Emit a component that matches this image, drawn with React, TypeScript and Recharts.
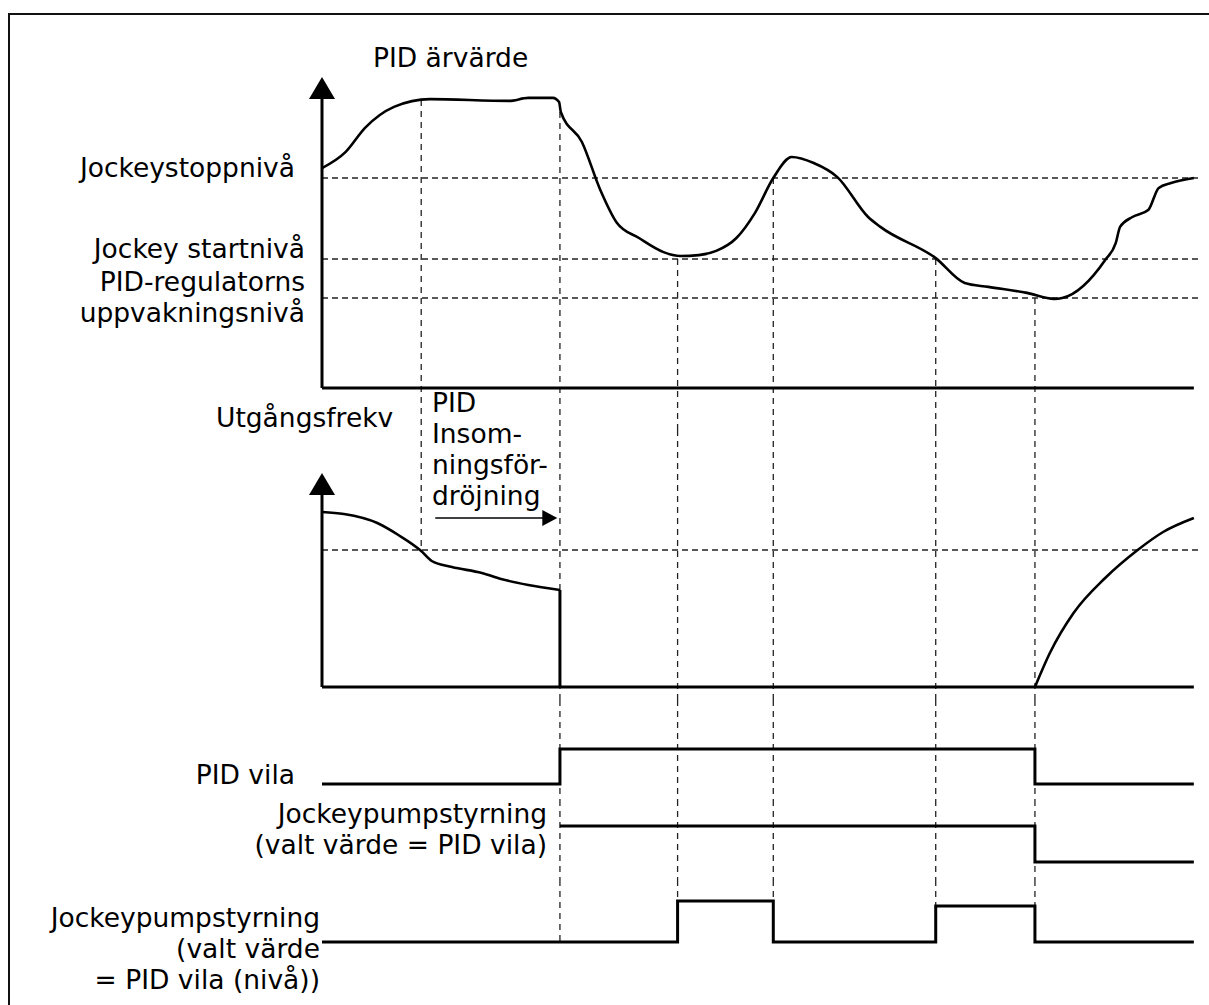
import React from 'react'
import { ComposedChart, Line, XAxis, YAxis, ReferenceLine, ReferenceDot } from 'recharts'

const W = 1209
const H = 1005
const PLOT_LEFT = 322
const PLOT_RIGHT = 1200
const FONT = '"DejaVu Sans", Verdana, sans-serif'
const FONT_SIZE = 26.5
const LINE_H = 31
const T_END = 99.3

// PID actual value (top panel)
const pvTime = [0, 2.7, 4.9, 8.2, 12.3, 21.3, 23.5, 26.3, 27.0, 27.2, 29.6, 31.7, 33.6, 36.1, 38.9, 40.8, 42.9, 44.9, 47.2, 49.3, 51.4, 53.5, 56.0, 58.7, 62.2, 63.6, 69.9, 73.2, 75.9, 80.3, 83.4, 84.3, 89.2, 90.4, 90.9, 92.3, 94.1, 95.3, 96.7, 99.3]
const pvValue = [73.3, 78.7, 86.7, 93.7, 96.3, 95.7, 96.7, 96.7, 95.3, 92.0, 82.0, 66.0, 55.0, 50.0, 45.3, 44.0, 44.3, 45.7, 50.0, 58.3, 70.0, 77.0, 75.0, 70.3, 57.0, 53.7, 43.3, 35.0, 33.7, 31.7, 29.7, 30.0, 42.7, 48.3, 53.7, 57.0, 59.3, 66.7, 68.3, 70.0]
const pvLevels = [70, 43, 30]
const pvAxisTop = 103.7

// output frequency (middle panel)
const freqTime = [0, 2.5, 6.3, 8.7, 11.3, 12.5, 14.8, 18.2, 20.4, 23.5, 27.1]
const freqValue = [87.5, 86.5, 82, 76, 68, 63, 60, 57, 54, 51, 48.5]
const freqRiseTime = [81.2, 82.9, 85.6, 89.2, 92.9, 95.8, 99.3]
const freqRiseValue = [0, 17, 37, 54.5, 68.5, 77.5, 84.5]
const freqLevel = 68.5
const freqAxisTop = 107
const delayArrow = { from: 12.9, to: 26.8, level: 84.5 }

// digital signals
const sleepTime = [0, 27.1, 81.2, T_END]
const sleepState = [0, 1, 0, 0]
const jockeyATime = [27.1, 81.2, T_END]
const jockeyAState = [1, 0, 0]
const jockeyBTime = [0, 40.5, 51.4, 69.9, 81.2, T_END]
const jockeyBState = [0, 1, 0, 0.88, 0, 0]

// vertical guides: time, [panel, value] start, [panel, value] end
const guideTime = [11.3, 27.1, 40.5, 51.4, 69.9, 81.2]
const guideFrom = [[0, 96], [0, 92], [0, 43], [0, 70], [0, 43], [0, 30]]
const guideTo = [[1, 68.5], [4, 0], [4, 1], [4, 1], [4, 0.88], [4, 0.88]]

// panel bands on the page: top, bottom, pixel of value 0, pixels per unit
const bands = [
  { top: 40, bottom: 430, zero: 388, k: 3 },
  { top: 430, bottom: 700, zero: 687, k: 2 },
  { top: 700, bottom: 800, zero: 784, k: 35 },
  { top: 800, bottom: 880, zero: 862, k: 36 },
  { top: 880, bottom: 960, zero: 942, k: 41 },
]

const zip = (ts: number[], vs: number[]) => ts.map((t, i) => ({ t, v: vs[i] }))

// y = baseline of the first line
const labels = [
  { lines: ['PID ärvärde'], x: 373, y: 67, anchor: 'start' },
  { lines: ['Jockeystoppnivå'], x: 295, y: 177, anchor: 'end' },
  { lines: ['Jockey startnivå'], x: 305, y: 258, anchor: 'end' },
  { lines: ['PID-regulatorns', 'uppvakningsnivå'], x: 305, y: 291, anchor: 'end' },
  { lines: ['Utgångsfrekv'], x: 216, y: 427, anchor: 'start' },
  { lines: ['PID', 'Insom-', 'ningsför-', 'dröjning'], x: 432, y: 412, anchor: 'start' },
  { lines: ['PID vila'], x: 295, y: 784, anchor: 'end' },
  { lines: ['Jockeypumpstyrning', '(valt värde = PID vila)'], x: 547, y: 823, anchor: 'end' },
  { lines: ['Jockeypumpstyrning', '(valt värde', '= PID vila (nivå))'], x: 320, y: 927, anchor: 'end' },
]

const upArrow = (props: any) => {
  const { cx, cy } = props
  return <path d={`M${cx},${cy} L${cx + 13},${cy + 22} L${cx - 13},${cy + 22} Z`} fill="#000" />
}

const rightArrow = (props: any) => {
  const { cx, cy } = props
  return <path d={`M${cx},${cy} L${cx - 15},${cy - 8} L${cx - 15},${cy + 8} Z`} fill="#000" />
}

function bandDomain(p: number): [number, number] {
  const b = bands[p]
  return [(b.zero - b.bottom) / b.k, (b.zero - b.top) / b.k]
}

function guides(p: number) {
  const [lo, hi] = bandDomain(p)
  return guideTime.map((t, i) => {
    const [fp, fv] = guideFrom[i]
    const [tp, tv] = guideTo[i]
    if (p < fp || p > tp) return null
    const y1 = p === fp ? fv : hi
    const y2 = p === tp ? tv : lo
    return (
      <ReferenceLine
        key={'g' + i}
        segment={[{ x: t, y: y1 }, { x: t, y: y2 }]}
        stroke="#222"
        strokeWidth={1.3}
        strokeDasharray="6 5"
        ifOverflow="visible"
      />
    )
  })
}

function Panel({ p, children }: { p: number; children: React.ReactNode }) {
  const b = bands[p]
  return (
    <div style={{ position: 'absolute', left: 0, top: b.top }}>
      <ComposedChart
        width={W}
        height={b.bottom - b.top}
        margin={{ top: 0, right: W - PLOT_RIGHT, bottom: 0, left: PLOT_LEFT }}
      >
        <XAxis type="number" dataKey="t" domain={[0, 100]} hide allowDataOverflow />
        <YAxis type="number" domain={bandDomain(p)} hide allowDataOverflow />
        {guides(p)}
        {children}
      </ComposedChart>
    </div>
  )
}

const levelLine = (y: number, key: string) => (
  <ReferenceLine key={key} y={y} stroke="#222" strokeWidth={1.3} strokeDasharray="6 4" />
)

const axisLines = (top: number, key: string) => [
  <ReferenceLine key={key + 'y'} segment={[{ x: 0, y: 0 }, { x: 0, y: top - 2 }]} stroke="#000" strokeWidth={3} />,
  <ReferenceLine key={key + 'x'} segment={[{ x: 0, y: 0 }, { x: T_END, y: 0 }]} stroke="#000" strokeWidth={3} />,
  <ReferenceDot key={key + 'a'} x={0} y={top} r={1} shape={upArrow} />,
]

const signal = (ts: number[], vs: number[]) => (
  <Line
    data={zip(ts, vs)}
    dataKey="v"
    type="stepAfter"
    stroke="#000"
    strokeWidth={3}
    dot={false}
    isAnimationActive={false}
  />
)

export default function App() {
  return (
    <div style={{ position: 'absolute', left: 0, top: 0, width: W, height: H, overflow: 'hidden', background: '#fff' }}>
      <div
        style={{
          position: 'absolute',
          left: 8,
          top: 13,
          width: W,
          height: H,
          borderTop: '2px solid #111',
          borderLeft: '2px solid #111',
        }}
      />

      <Panel p={0}>
        {pvLevels.map((l, i) => levelLine(l, 'pl' + i))}
        {axisLines(pvAxisTop, 'pv')}
        <Line
          data={zip(pvTime, pvValue)}
          dataKey="v"
          type="monotone"
          stroke="#000"
          strokeWidth={2.6}
          dot={false}
          isAnimationActive={false}
        />
      </Panel>

      <Panel p={1}>
        {levelLine(freqLevel, 'fl')}
        {axisLines(freqAxisTop, 'fq')}
        <ReferenceLine
          segment={[{ x: delayArrow.from, y: delayArrow.level }, { x: delayArrow.to - 1.2, y: delayArrow.level }]}
          stroke="#000"
          strokeWidth={1.6}
        />
        <ReferenceDot x={delayArrow.to} y={delayArrow.level} r={1} shape={rightArrow} />
        <Line
          data={zip(freqTime, freqValue)}
          dataKey="v"
          type="monotone"
          stroke="#000"
          strokeWidth={2.6}
          dot={false}
          isAnimationActive={false}
        />
        <Line
          data={zip([freqTime[freqTime.length - 1], freqTime[freqTime.length - 1]], [freqValue[freqValue.length - 1], 0])}
          dataKey="v"
          type="linear"
          stroke="#000"
          strokeWidth={3}
          dot={false}
          isAnimationActive={false}
        />
        <Line
          data={zip(freqRiseTime, freqRiseValue)}
          dataKey="v"
          type="monotone"
          stroke="#000"
          strokeWidth={2.6}
          dot={false}
          isAnimationActive={false}
        />
      </Panel>

      <Panel p={2}>{signal(sleepTime, sleepState)}</Panel>
      <Panel p={3}>{signal(jockeyATime, jockeyAState)}</Panel>
      <Panel p={4}>{signal(jockeyBTime, jockeyBState)}</Panel>

      <svg
        width={W}
        height={H}
        style={{ position: 'absolute', left: 0, top: 0, pointerEvents: 'none' }}
      >
        {labels.map((l, i) => (
          <text
            key={i}
            x={l.x}
            y={l.y}
            textAnchor={l.anchor as any}
            fontFamily={FONT}
            fontSize={FONT_SIZE}
            fill="#000"
          >
            {l.lines.map((s, j) => (
              <tspan key={j} x={l.x} dy={j === 0 ? 0 : LINE_H}>
                {s}
              </tspan>
            ))}
          </text>
        ))}
      </svg>
    </div>
  )
}
